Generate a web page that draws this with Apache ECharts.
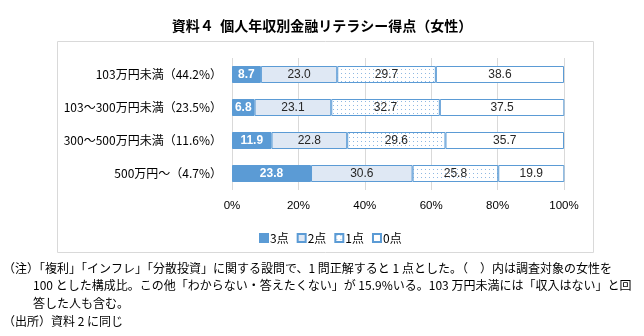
<!DOCTYPE html>
<html><head><meta charset="utf-8">
<script src="https://cdn.jsdelivr.net/npm/echarts@6/dist/echarts.min.js"></script>
<style>html,body{margin:0;padding:0;background:#fff}#c{width:644px;height:336px}</style>
</head><body><div id="c"></div>
<script>
const categories = ['103万円未満（44.2%）','103～300万円未満（23.5%）','300～500万円未満（11.6%）','500万円～（4.7%）'];
const seriesNames = ['3点','2点','1点','0点'];
const score3 = [8.7, 6.8, 11.9, 23.8];
const score2 = [23.0, 23.1, 22.8, 30.6];
const score1 = [29.7, 32.7, 29.6, 25.8];
const score0 = [38.6, 37.5, 35.7, 19.9];
const xTicks = [0, 20, 40, 60, 80, 100];
const titleText = '資料４  個人年収別金融リテラシー得点（女性）';
const noteLines = [
  '（注）「複利」「インフレ」「分散投資」に関する設問で、1 問正解すると 1 点とした。（　）内は調査対象の女性を',
  '100 とした構成比。この他「わからない・答えたくない」が 15.9%いる。103 万円未満には「収入はない」と回',
  '答した人も含む。',
  '（出所）資料 2 に同じ'
];

const BLUE = '#5b9bd5';
const FONT = '"Noto Sans CJK JP", "Liberation Sans", sans-serif';

const pc = document.createElement('canvas');
pc.width = 4; pc.height = 4;
const pctx = pc.getContext('2d');
pctx.fillStyle = '#ffffff'; pctx.fillRect(0,0,4,4);
pctx.fillStyle = '#8fb8e2'; pctx.fillRect(1,1,1,1);

const fills = [BLUE, '#dfe8f4', {image: pc, repeat: 'repeat'}, '#ffffff'];
const values = [score3, score2, score1, score0];

const chart = echarts.init(document.getElementById('c'), null, {renderer:'canvas'});
const series = values.map((v, i) => ({
  name: seriesNames[i],
  type: 'bar',
  stack: 'total',
  barWidth: 17,
  data: v,
  itemStyle: {color: fills[i], borderColor: BLUE, borderWidth: 1},
  label: {
    show: true, position: 'inside',
    formatter: p => p.value.toFixed(1),
    color: i === 0 ? '#ffffff' : '#262626',
    fontWeight: i === 0 ? 'bold' : 'normal',
    fontSize: 12,
    fontFamily: '"Liberation Sans", Arial, sans-serif'
  }
}));

const graphics = [
  {type:'rect', shape:{x:57.5, y:41.5, width:536, height:211}, style:{fill:'none', stroke:'#d9d9d9', lineWidth:1}, silent:true, z:-1}
];
noteLines.forEach((t, i) => {
  graphics.push({type:'text', left: i === 0 || i === 3 ? 3 : 33, top: 262 + i*17.7,
    style:{text:t, font:'12px ' + FONT, fill:'#000'}});
});

chart.setOption({
  animation: false,
  title: {text: titleText, left: 'center', top: 14,
    textStyle: {fontSize: 14, fontWeight: 'bold', color: '#000', fontFamily: FONT}},
  grid: {left: 232, right: 80, top: 58, height: 132},
  legend: {
    data: seriesNames.map(n => ({name: n, icon: 'rect'})), left: 254, top: 227, itemWidth: 8, itemHeight: 8, itemGap: 8,
    textStyle: {fontSize: 12, color: '#000', fontFamily: FONT, padding:[0,0,0,-3]}
  },
  xAxis: {
    type: 'value', min: xTicks[0], max: xTicks[xTicks.length-1], interval: 20,
    axisLabel: {formatter: '{value}%', color: '#000', fontSize: 11.5, margin: 10, fontFamily: '"Liberation Sans", Arial, sans-serif'},
    splitLine: {lineStyle: {color: '#d9d9d9'}},
    axisLine: {show: false}, axisTick: {show: false}
  },
  yAxis: {
    type: 'category', data: categories, inverse: true,
    axisLine: {show: false}, axisTick: {show: false},
    axisLabel: {color: '#000', fontSize: 12, margin: 10, fontFamily: FONT}
  },
  graphic: graphics,
  series: series
});
</script></body></html>
